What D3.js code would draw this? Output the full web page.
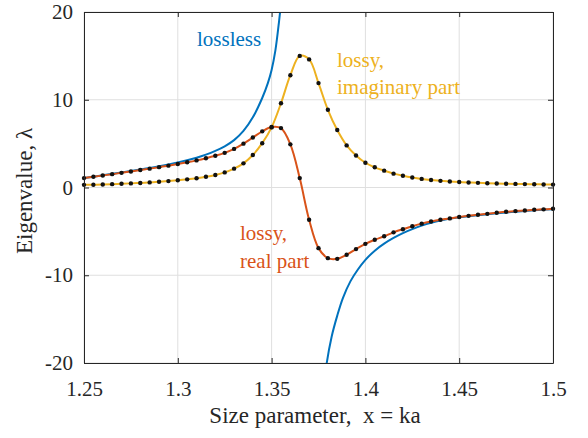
<!DOCTYPE html>
<html>
<head>
<meta charset="utf-8">
<script src="https://cdn.jsdelivr.net/npm/d3@7"></script>
<style>
  body { margin: 0; background: #fff; }
  svg { display: block; }
  text { font-family: "Liberation Serif", "Times New Roman", serif; }
</style>
</head>
<body>
<div id="chart"></div>
<script>
var w = 588;
var h = 438;

// sample positions of the dotted (lossy) curves
var sizeParam = [1.25, 1.255, 1.26, 1.265, 1.27, 1.275, 1.28, 1.285, 1.29, 1.295,
  1.30, 1.305, 1.31, 1.315, 1.32, 1.325, 1.33, 1.335, 1.34, 1.345,
  1.35, 1.355, 1.36, 1.365, 1.37, 1.375, 1.38, 1.385, 1.39, 1.395,
  1.40, 1.405, 1.41, 1.415, 1.42, 1.425, 1.43, 1.435, 1.44, 1.445,
  1.45, 1.455, 1.46, 1.465, 1.47, 1.475, 1.48, 1.485, 1.49, 1.495, 1.50];

var realPart = [1.07, 1.22, 1.37, 1.52, 1.67, 1.83, 1.99, 2.15, 2.32, 2.49,
  2.67, 2.87, 3.09, 3.34, 3.62, 3.95, 4.4, 5.0, 5.7, 6.4,
  6.9, 6.77, 4.92, 1.07, -3.68, -6.91, -8.05, -8.13, -7.67, -7.02,
  -6.42, -5.96, -5.55, -5.11, -4.75, -4.42, -4.12, -3.88, -3.68, -3.52,
  -3.37, -3.23, -3.11, -3.0, -2.88, -2.77, -2.69, -2.62, -2.54, -2.49, -2.43];

var imagPart = [0.3, 0.32, 0.35, 0.38, 0.42, 0.47, 0.52, 0.58, 0.65, 0.73,
  0.82, 0.93, 1.06, 1.22, 1.43, 1.72, 2.15, 2.75, 3.7, 5.05,
  6.85, 9.6, 12.8, 15.0, 14.6, 11.9, 8.86, 6.55, 4.8, 3.65,
  2.82, 2.3, 1.92, 1.58, 1.34, 1.14, 0.98, 0.86, 0.76, 0.68,
  0.62, 0.57, 0.53, 0.49, 0.46, 0.43, 0.41, 0.39, 0.37, 0.35, 0.33];

// lossless curve, two branches either side of the pole
var losslessLeftX = [1.25, 1.26, 1.27, 1.28, 1.29, 1.30, 1.31, 1.315, 1.32, 1.325,
  1.33, 1.335, 1.34, 1.345, 1.348, 1.35, 1.352, 1.354, 1.355, 1.357];
var losslessLeftY = [1.07, 1.40, 1.72, 2.06, 2.43, 2.86, 3.40, 3.75, 4.18, 4.70,
  5.40, 6.45, 8.0, 10.2, 11.9, 13.4, 15.6, 19.0, 21.0, 26.0];
var losslessRightX = [1.377, 1.3794, 1.382, 1.385, 1.388, 1.392, 1.396, 1.40, 1.405, 1.41,
  1.415, 1.42, 1.425, 1.43, 1.435, 1.44, 1.45, 1.46, 1.47, 1.48, 1.49, 1.50];
var losslessRightY = [-24.5, -20.0, -17.0, -14.6, -12.6, -10.7, -9.35, -8.25, -7.2, -6.4,
  -5.75, -5.2, -4.75, -4.35, -4.02, -3.76, -3.4, -3.15, -2.94, -2.76, -2.6, -2.48];

var xTicks = [1.25, 1.3, 1.35, 1.4, 1.45, 1.5];
var yTicks = [-20, -10, 0, 10, 20];

var pLeft = 84, pRight = 553, pTop = 12, pBottom = 363;

var svg = d3.select("#chart")
    .append("svg")
    .attr("width", w)
    .attr("height", h);

var x = d3.scaleLinear().domain([1.25, 1.5]).range([pLeft, pRight]);
var y = d3.scaleLinear().domain([-20, 20]).range([pBottom, pTop]);

// grid
svg.append("g")
    .selectAll("line")
    .data(xTicks)
    .enter()
    .append("line")
    .attr("x1", function(d) { return x(d); })
    .attr("x2", function(d) { return x(d); })
    .attr("y1", pTop)
    .attr("y2", pBottom)
    .attr("stroke", "#dfdfdf")
    .attr("stroke-width", 1);

svg.append("g")
    .selectAll("line")
    .data(yTicks)
    .enter()
    .append("line")
    .attr("x1", pLeft)
    .attr("x2", pRight)
    .attr("y1", function(d) { return y(d); })
    .attr("y2", function(d) { return y(d); })
    .attr("stroke", "#dfdfdf")
    .attr("stroke-width", 1);

svg.append("clipPath")
    .attr("id", "plotclip")
    .append("rect")
    .attr("x", pLeft)
    .attr("y", pTop)
    .attr("width", pRight - pLeft)
    .attr("height", pBottom - pTop);

var line = d3.line()
    .x(function(d) { return x(d[0]); })
    .y(function(d) { return y(d[1]); })
    .curve(d3.curveCatmullRom.alpha(0.5));

var plot = svg.append("g").attr("clip-path", "url(#plotclip)");

var leftBranch = d3.zip(losslessLeftX, losslessLeftY);
var rightBranch = d3.zip(losslessRightX, losslessRightY);
var realPts = d3.zip(sizeParam, realPart);
var imagPts = d3.zip(sizeParam, imagPart);

[leftBranch, rightBranch].forEach(function(b) {
    plot.append("path")
        .attr("d", line(b))
        .attr("fill", "none")
        .attr("stroke", "#0072BD")
        .attr("stroke-width", 2);
});

plot.append("path")
    .attr("d", line(realPts))
    .attr("fill", "none")
    .attr("stroke", "#D95319")
    .attr("stroke-width", 2);

plot.append("path")
    .attr("d", line(imagPts))
    .attr("fill", "none")
    .attr("stroke", "#EDB120")
    .attr("stroke-width", 2);

// dots
svg.append("g")
    .selectAll("circle")
    .data(realPts.concat(imagPts))
    .enter()
    .append("circle")
    .attr("cx", function(d) { return x(d[0]); })
    .attr("cy", function(d) { return y(d[1]); })
    .attr("r", 2.2)
    .attr("fill", "#111");

// axes (box with inward ticks)
var axisColor = "#262626";
var xb = svg.append("g").attr("transform", "translate(0," + pBottom + ")")
    .call(d3.axisBottom(x).tickValues(xTicks).tickSizeInner(-5).tickSizeOuter(0)
        .tickFormat(function(d) { return String(d); }));
var xt = svg.append("g").attr("transform", "translate(0," + pTop + ")")
    .call(d3.axisTop(x).tickValues(xTicks).tickSizeInner(-5).tickSizeOuter(0)
        .tickFormat(""));
var yl = svg.append("g").attr("transform", "translate(" + pLeft + ",0)")
    .call(d3.axisLeft(y).tickValues(yTicks).tickSizeInner(-5).tickSizeOuter(0)
        .tickFormat(function(d) { return String(d); }));
var yr = svg.append("g").attr("transform", "translate(" + pRight + ",0)")
    .call(d3.axisRight(y).tickValues(yTicks).tickSizeInner(-5).tickSizeOuter(0)
        .tickFormat(""));

[xb, xt, yl, yr].forEach(function(g) {
    g.select(".domain").attr("stroke", axisColor).attr("stroke-width", 1);
    g.selectAll(".tick line").attr("stroke", axisColor);
    g.selectAll("text")
        .attr("fill", "#262626")
        .style("font-family", "'Liberation Serif', serif")
        .style("font-size", "21px");
});
xb.selectAll(".tick text").attr("dy", "0.71em").attr("y", 18);
yl.selectAll(".tick text").attr("x", -11);

// axis titles
svg.append("text")
    .attr("x", 315)
    .attr("y", 423)
    .attr("text-anchor", "middle")
    .attr("fill", "#262626")
    .style("font-size", "23px")
    .style("white-space", "pre")
    .text("Size parameter,  x = ka");

svg.append("text")
    .attr("transform", "translate(32,191) rotate(-90)")
    .attr("text-anchor", "middle")
    .attr("fill", "#262626")
    .style("font-size", "23px")
    .text("Eigenvalue, λ");

// curve labels
var labels = [
    {t: "lossless", x: 197, y: 46, c: "#0072BD"},
    {t: "lossy,", x: 337, y: 67, c: "#EDB120"},
    {t: "imaginary part", x: 337, y: 94, c: "#EDB120"},
    {t: "lossy,", x: 240, y: 240, c: "#D95319"},
    {t: "real part", x: 240, y: 268, c: "#D95319"}
];
svg.append("g")
    .selectAll("text")
    .data(labels)
    .enter()
    .append("text")
    .attr("x", function(d) { return d.x; })
    .attr("y", function(d) { return d.y; })
    .attr("fill", function(d) { return d.c; })
    .style("font-size", "21px")
    .text(function(d) { return d.t; });
</script>
</body>
</html>
